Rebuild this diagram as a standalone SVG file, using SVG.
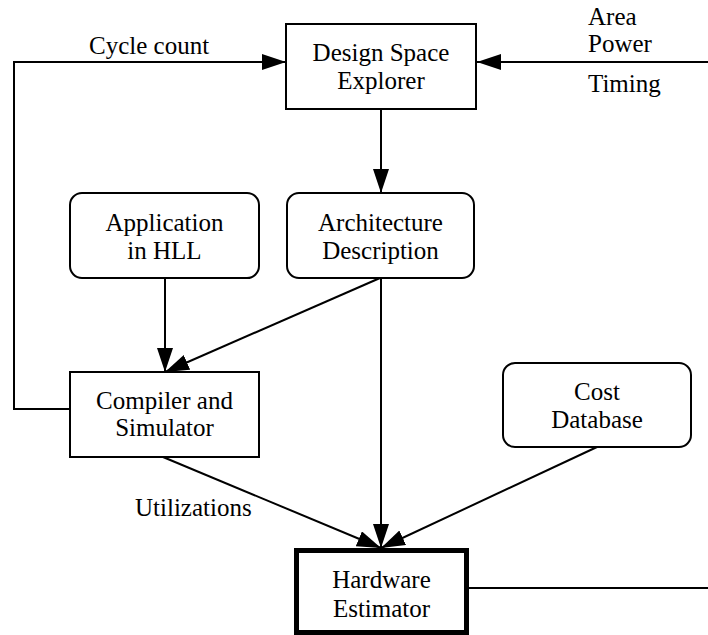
<svg xmlns="http://www.w3.org/2000/svg" width="708" height="635" viewBox="0 0 708 635">
  <style>
    .box { fill: #ffffff; stroke: #000000; stroke-width: 2; }
    .heavy { fill: #ffffff; stroke: #000000; stroke-width: 5; }
    .edge { fill: none; stroke: #000000; stroke-width: 2; }
    text { font-family: "Liberation Serif", "Times New Roman", serif; font-size: 25px; fill: #000000; }
    .c { text-anchor: middle; }
  </style>
  <defs>
    <marker id="arrow" markerUnits="userSpaceOnUse" markerWidth="26" markerHeight="18" refX="24" refY="8" orient="auto">
      <path d="M0,0 L24,8 L0,16 Z" fill="#000000"/>
    </marker>
  </defs>

  <!-- connectors -->
  <g id="connectors">
    <!-- feedback: compiler -> explorer (cycle count) -->
    <polyline class="edge" points="70,409 14,409 14,62 286,62" marker-end="url(#arrow)"/>
    <!-- estimator result line -->
    <polyline class="edge" points="468,588 708,588"/>
    <!-- area / power / timing -> explorer -->
    <line class="edge" x1="708" y1="62" x2="477" y2="62" marker-end="url(#arrow)"/>
    <!-- explorer -> architecture -->
    <line class="edge" x1="381" y1="109" x2="381" y2="193" marker-end="url(#arrow)"/>
    <!-- application -> compiler -->
    <line class="edge" x1="165" y1="278" x2="165" y2="372" marker-end="url(#arrow)"/>
    <!-- architecture -> compiler -->
    <line class="edge" x1="380" y1="278" x2="165" y2="372" marker-end="url(#arrow)"/>
    <!-- architecture -> estimator -->
    <line class="edge" x1="381" y1="278" x2="381" y2="548" marker-end="url(#arrow)"/>
    <!-- compiler -> estimator (utilizations) -->
    <line class="edge" x1="163" y1="457" x2="381" y2="548" marker-end="url(#arrow)"/>
    <!-- cost database -> estimator -->
    <line class="edge" x1="597" y1="447" x2="381" y2="548" marker-end="url(#arrow)"/>
  </g>

  <!-- edge labels -->
  <g id="labels">
    <text x="89" y="54">Cycle count</text>
    <text x="588" y="25">Area</text>
    <text x="588" y="52">Power</text>
    <text x="588" y="92">Timing</text>
    <text x="135" y="516">Utilizations</text>
  </g>

  <g id="explorer">
    <rect class="box" x="286" y="24" width="190" height="85"/>
    <text class="c" x="381" y="61">Design Space</text>
    <text class="c" x="381" y="89">Explorer</text>
  </g>

  <g id="application">
    <rect class="box" x="70" y="193" width="189" height="85" rx="12" ry="12"/>
    <text class="c" x="164.5" y="231">Application</text>
    <text class="c" x="164.5" y="259">in HLL</text>
  </g>

  <g id="architecture">
    <rect class="box" x="287" y="193" width="187" height="85" rx="12" ry="12"/>
    <text class="c" x="380.5" y="231">Architecture</text>
    <text class="c" x="380.5" y="259">Description</text>
  </g>

  <g id="compiler">
    <rect class="box" x="70" y="372" width="189" height="85"/>
    <text class="c" x="164.5" y="409">Compiler and</text>
    <text class="c" x="164.5" y="436">Simulator</text>
  </g>

  <g id="cost-database">
    <rect class="box" x="503" y="363" width="188" height="84" rx="12" ry="12"/>
    <text class="c" x="597" y="400">Cost</text>
    <text class="c" x="597" y="428">Database</text>
  </g>

  <g id="estimator">
    <rect class="heavy" x="296.5" y="550.5" width="170" height="82"/>
    <text class="c" x="381.5" y="588">Hardware</text>
    <text class="c" x="381.5" y="617">Estimator</text>
  </g>
</svg>
